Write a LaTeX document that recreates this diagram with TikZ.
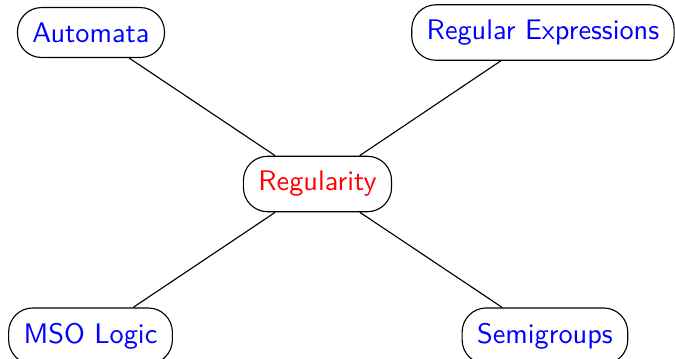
\documentclass[tikz,border=0pt]{standalone}
\usetikzlibrary{positioning}

\begin{document}
\begin{tikzpicture}[
    topicnode/.style = {shape=rectangle, rounded corners=3mm,
    draw, align=center, font=\sffamily, inner sep=5.3pt, text=blue},
    line/.style={draw}]

    \useasboundingbox (-3.943,-2.173) rectangle (4.440,2.285);

    \node[topicnode, text=red] (reg) at (0,0) {Regularity};

    \node[topicnode] (automata) at (-2.813,1.881) {Automata};
    \node[topicnode] (regex) at (2.800,1.881) {Regular Expressions};
    \node[topicnode] (mso) at (-2.819,-1.888) {MSO Logic};
    \node[topicnode] (semi) at (2.825,-1.888) {Semigroups};

  \draw [line] (reg) -- (automata);
  \draw [line] (reg) -- (regex);
  \draw [line] (reg) -- (mso);
  \draw [line] (reg) -- (semi);
  \end{tikzpicture}
\end{document}
